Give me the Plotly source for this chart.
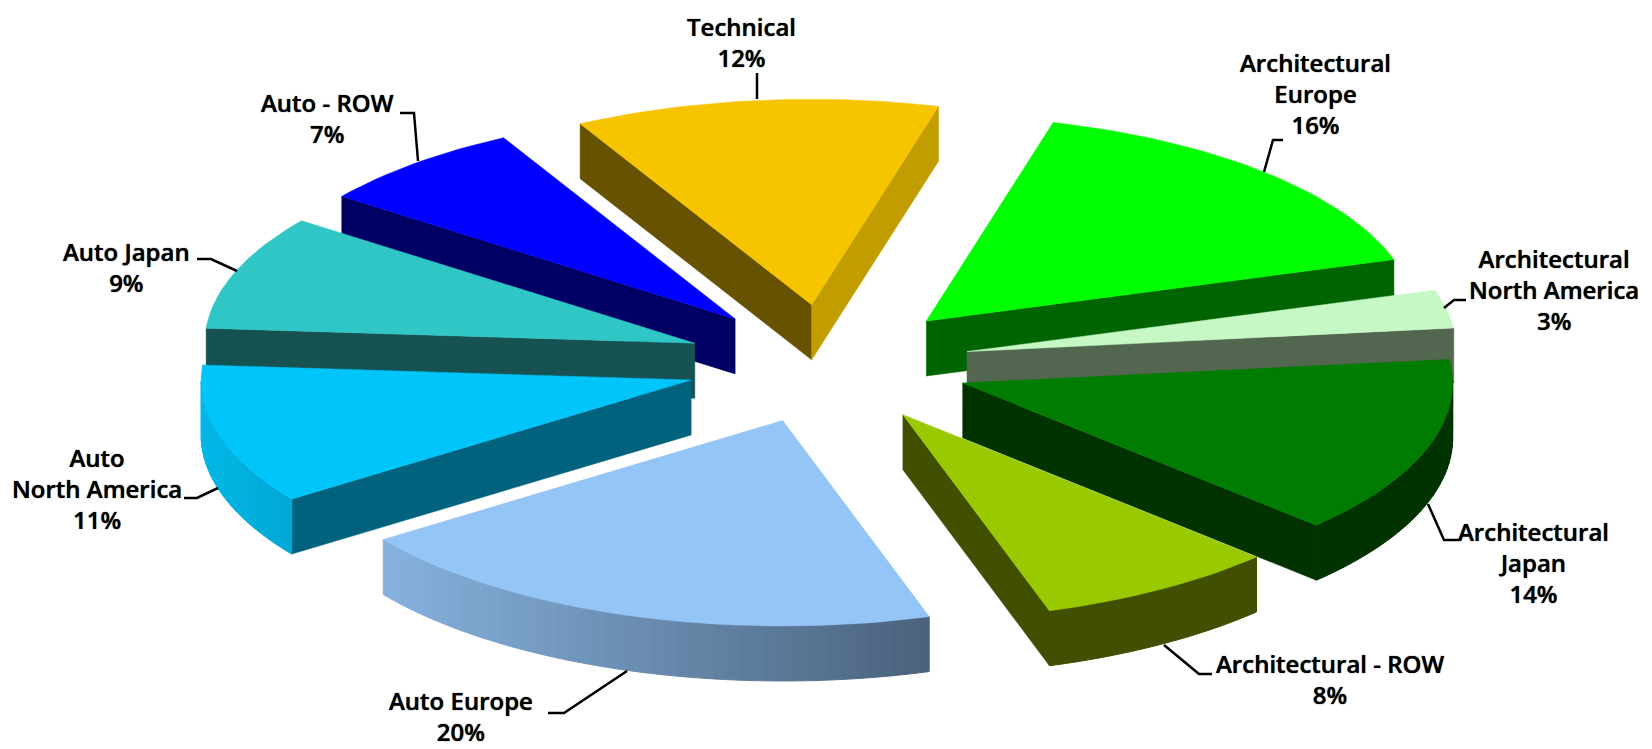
import math
import plotly.graph_objects as go

# Data
categories = ["Technical", "Architectural Europe", "Architectural North America", "Architectural Japan",
              "Architectural - ROW", "Auto Europe", "Auto North America", "Auto Japan", "Auto - ROW"]
shares = [12, 16, 3, 14, 8, 20, 11, 9, 7]
label_lines = [["Technical"], ["Architectural", "Europe"], ["Architectural", "North America"],
               ["Architectural", "Japan"], ["Architectural - ROW"], ["Auto Europe"],
               ["Auto", "North America"], ["Auto Japan"], ["Auto - ROW"]]

# Styles
top_colors = ["#F6C500", "#00FF00", "#C6F8C6", "#007C00", "#99C900", "#94C5F7", "#00C5FA", "#31C6C6", "#0000FF"]
wall_colors = ["#665200", "#006400", "#526650", "#003300", "#404F00", "#4A627C", "#00627D", "#165252", "#000064"]
end_wall_override = {0: "#C29D00"}
rim_left = ["#665200", "#006400", "#526650", "#003300", "#404F00", "#86B2DE", "#00B7E6", "#165252", "#000064"]
rim_right = ["#665200", "#006400", "#526650", "#003300", "#404F00", "#4A627C", "#00A8D4", "#165252", "#000064"]

# Layout of the projected pie, in page pixels
CX, CY, RX, RY = 828, 364, 490, 205.5
DEPTH, PULL, START_DEG = 55, 0.29, -28.2
label_pos = [(741, 42), (1315, 93), (1554, 289), (1533, 562), (1330, 679),
             (461, 716), (97, 488), (126, 267), (327, 118)]
leaders = [[(757, 73), (757, 99)],
           [(1283, 140), (1273, 140), (1264, 172)],
           [(1466, 300), (1454, 300), (1444, 308)],
           [(1459, 540), (1444, 540), (1428, 504)],
           [(1212, 674), (1199, 674), (1164, 645)],
           [(548, 713), (564, 713), (627, 671)],
           [(184, 498), (197, 498), (218, 488)],
           [(197, 259), (211, 259), (237, 271)],
           [(400, 113), (414, 113), (418, 161)]]
FONT = dict(family="Open Sans, DejaVu Sans", size=24, color="#000000", weight=600, shadow="0 0 1px #000000")


def pt(cx, cy, deg):
    r = math.radians(deg)
    return cx + RX * math.sin(r), cy - RY * math.cos(r)


def poly(fig, pts, color, seam=False):
    xs = [p[0] for p in pts] + [pts[0][0]]
    ys = [p[1] for p in pts] + [pts[0][1]]
    fig.add_trace(go.Scatter(x=xs, y=ys, mode="lines", fill="toself", fillcolor=color,
                             line=dict(color=color, width=1 if seam else 0.5),
                             hoverinfo="skip", showlegend=False))


def mix(a, b, t):
    ca = [int(a[i:i + 2], 16) for i in (1, 3, 5)]
    cb = [int(b[i:i + 2], 16) for i in (1, 3, 5)]
    return "#%02X%02X%02X" % tuple(round(u + (v - u) * t) for u, v in zip(ca, cb))


total = sum(shares)
slices = []
angle = START_DEG
for i, s in enumerate(shares):
    sweep = 360.0 * s / total
    slices.append((i, angle, angle + sweep))
    angle += sweep

fig = go.Figure()
# painter's order, back to front
order = sorted(slices, key=lambda t: -math.cos(math.radians((t[1] + t[2]) / 2)))
for i, a0, a1 in order:
    mid = (a0 + a1) / 2
    ax, ay = CX + PULL * RX * math.sin(math.radians(mid)), CY - PULL * RY * math.cos(math.radians(mid))
    n = max(4, int((a1 - a0) / 1.5))
    arc = [pt(ax, ay, a0 + (a1 - a0) * k / n) for k in range(n + 1)]
    start, end = arc[0], arc[-1]
    apex = (ax, ay)
    # radial walls: visible when the clockwise edge runs right-to-left
    if start[0] < apex[0]:
        poly(fig, [apex, start, (start[0], start[1] + DEPTH), (apex[0], apex[1] + DEPTH)], wall_colors[i])
    if apex[0] < end[0]:
        poly(fig, [end, apex, (apex[0], apex[1] + DEPTH), (end[0], end[1] + DEPTH)],
             end_wall_override.get(i, wall_colors[i]))
    # outer rim with left-to-right shading
    front = [k for k in range(n) if arc[k + 1][0] < arc[k][0]]
    if front:
        xmin = min(arc[k + 1][0] for k in front)
        xmax = max(arc[k][0] for k in front)
        for k in front:
            p, q = arc[k], arc[k + 1]
            t = ((p[0] + q[0]) / 2 - xmin) / max(xmax - xmin, 1)
            poly(fig, [p, q, (q[0], q[1] + DEPTH), (p[0], p[1] + DEPTH)], mix(rim_left[i], rim_right[i], t), seam=True)
    poly(fig, [apex] + arc, top_colors[i])

for path in leaders:
    fig.add_trace(go.Scatter(x=[p[0] for p in path], y=[p[1] for p in path], mode="lines",
                             line=dict(color="#000000", width=2.5), hoverinfo="skip", showlegend=False))

for lines, s, (x, y) in zip(label_lines, shares, label_pos):
    fig.add_annotation(x=x, y=y, text="<br>".join(lines + [f"{s}%"]), showarrow=False,
                       font=FONT, align="center", xanchor="center", yanchor="middle")

fig.update_layout(width=1652, height=749, margin=dict(l=0, r=0, t=0, b=0),
                  paper_bgcolor="#FFFFFF", plot_bgcolor="#FFFFFF", showlegend=False,
                  xaxis=dict(range=[0, 1652], visible=False, fixedrange=True),
                  yaxis=dict(range=[749, 0], visible=False, fixedrange=True))
fig.write_html("out.html", config={"displayModeBar": False},
               post_script="document.body.style.margin='0';document.documentElement.style.overflow='hidden';")
